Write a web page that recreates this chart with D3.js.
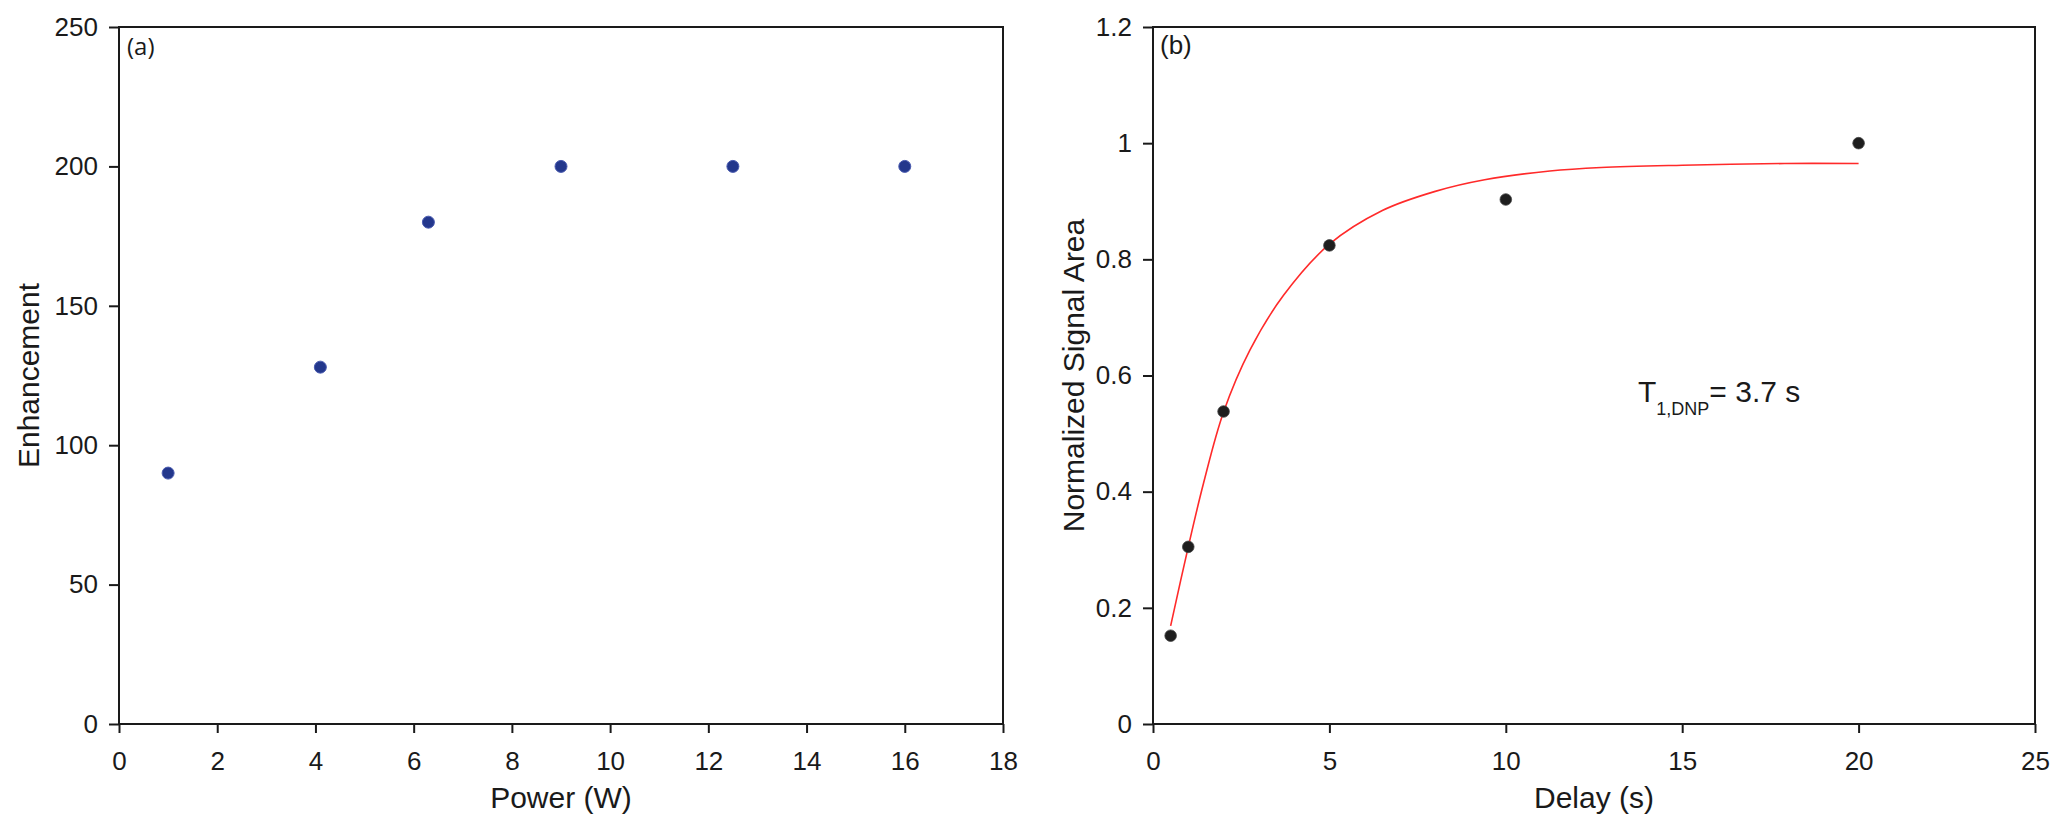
<!DOCTYPE html>
<html>
<head>
<meta charset="utf-8">
<script src="https://cdn.jsdelivr.net/npm/d3@7"></script>
<style>
  body { margin: 0; background: #fff; }
  svg text { font-family: "Liberation Sans", Arial, sans-serif; fill: #1a1a1a; }
</style>
</head>
<body>
<svg id="chart"></svg>
<script>
// [ --- data
var powerW = [1, 4.1, 6.3, 9, 12.5, 16];
var enhancement = [90, 128, 180, 200, 200, 200];

var delayS = [0.5, 1, 2, 5, 10, 20];
var signalArea = [0.152, 0.305, 0.538, 0.824, 0.903, 1.0];

// fitted curve
var fitDelay = [0.5, 1, 1.43, 2, 2.75, 3.7, 5, 6.5, 8, 9.4, 11.25, 12.7, 15, 17.9, 20];
var fitArea = [0.169, 0.305, 0.414, 0.537, 0.644, 0.738, 0.826, 0.884, 0.917, 0.937, 0.952, 0.958, 0.962, 0.965, 0.965];

var powerTicks = [0, 2, 4, 6, 8, 10, 12, 14, 16, 18];
var enhTicks = [0, 50, 100, 150, 200, 250];
var delayTicks = [0, 5, 10, 15, 20, 25];
var areaTicks = [0, 0.2, 0.4, 0.6, 0.8, 1, 1.2];
// data ---]

var width = 2067;
var height = 835;
var plotTop = 27, plotBottom = 724;

var svg = d3.select("#chart")
              .attr("width", width)
              .attr("height", height);

function drawFrame(xScale, yScale, xTicks, yTicks){
  var g = svg.append("g");

  g.append("g")
      .attr("transform", "translate(0," + plotBottom + ")")
      .call(d3.axisBottom(xScale)
              .tickValues(xTicks)
              .tickFormat(d => String(d))
              .tickSize(9)
              .tickSizeOuter(0)
              .tickPadding(19));

  g.append("g")
      .attr("transform", "translate(" + xScale.range()[0] + ",0)")
      .call(d3.axisLeft(yScale)
              .tickValues(yTicks)
              .tickFormat(d => String(d))
              .tickSize(10)
              .tickSizeOuter(0)
              .tickPadding(11));

  g.selectAll(".domain").remove();
  g.selectAll(".tick line")
      .attr("stroke", "#1a1a1a")
      .attr("stroke-width", 2);
  g.selectAll(".tick text")
      .style("font-size", "26px")
      .style("font-family", "'Liberation Sans', Arial, sans-serif")
      .attr("fill", "#1a1a1a");

  g.append("rect")
      .attr("x", xScale.range()[0])
      .attr("y", plotTop)
      .attr("width", xScale.range()[1] - xScale.range()[0])
      .attr("height", plotBottom - plotTop)
      .attr("fill", "none")
      .attr("stroke", "#1a1a1a")
      .attr("stroke-width", 2);
}

// [ --- panel (a)
var xA = d3.scaleLinear().domain([0, 18]).range([119, 1003]);
var yA = d3.scaleLinear().domain([0, 250]).range([plotBottom, plotTop]);

drawFrame(xA, yA, powerTicks, enhTicks);

svg.append("g")
  .selectAll("circle")
  .data(powerW)
  .enter()
  .append("circle")
    .attr("cx", d => xA(d))
    .attr("cy", (d, i) => yA(enhancement[i]))
    .attr("r", 6)
    .attr("fill", "#23378c")
    .attr("stroke", "#4a5bb0")
    .attr("stroke-width", 1);

svg.append("text")
    .attr("x", 127)
    .attr("y", 55)
    .style("font-family", "'Open Sans', sans-serif")
    .style("font-size", "24px")
    .text("(a)");

svg.append("text")
    .attr("x", (119 + 1003) / 2)
    .attr("y", 808)
    .style("text-anchor", "middle")
    .style("font-size", "30px")
    .text("Power (W)");

svg.append("text")
    .attr("transform", "rotate(-90)")
    .attr("x", -(plotTop + plotBottom) / 2)
    .attr("y", 39)
    .style("text-anchor", "middle")
    .style("font-size", "30px")
    .text("Enhancement");
// panel (a) ---]

// [ --- panel (b)
var xB = d3.scaleLinear().domain([0, 25]).range([1153, 2035]);
var yB = d3.scaleLinear().domain([0, 1.2]).range([plotBottom, plotTop]);

drawFrame(xB, yB, delayTicks, areaTicks);

var line = d3.line()
              .x(d => xB(d))
              .y((d, i) => yB(fitArea[i]))
              .curve(d3.curveCatmullRom.alpha(0.5));

svg.append("path")
    .attr("d", line(fitDelay))
    .attr("fill", "none")
    .attr("stroke", "#ff2a2a")
    .attr("stroke-width", 1.6);

svg.append("g")
  .selectAll("circle")
  .data(delayS)
  .enter()
  .append("circle")
    .attr("cx", d => xB(d))
    .attr("cy", (d, i) => yB(signalArea[i]))
    .attr("r", 5.8)
    .attr("fill", "#1e1e1e")
    .attr("stroke", "#444")
    .attr("stroke-width", 0.8);

svg.append("text")
    .attr("x", 1160)
    .attr("y", 54)
    .style("font-size", "26px")
    .text("(b)");

var t1 = svg.append("text")
    .attr("x", 1638)
    .attr("y", 402)
    .style("font-size", "30px");
t1.append("tspan").text("T");
t1.append("tspan")
    .attr("dy", 13)
    .style("font-size", "18px")
    .text("1,DNP");
t1.append("tspan")
    .attr("dy", -13)
    .text("= 3.7 s");

svg.append("text")
    .attr("x", (1153 + 2035) / 2)
    .attr("y", 808)
    .style("text-anchor", "middle")
    .style("font-size", "30px")
    .text("Delay (s)");

svg.append("text")
    .attr("transform", "rotate(-90)")
    .attr("x", -(plotTop + plotBottom) / 2)
    .attr("y", 1084)
    .style("text-anchor", "middle")
    .style("font-size", "30px")
    .text("Normalized Signal Area");
// panel (b) ---]
</script>
</body>
</html>
